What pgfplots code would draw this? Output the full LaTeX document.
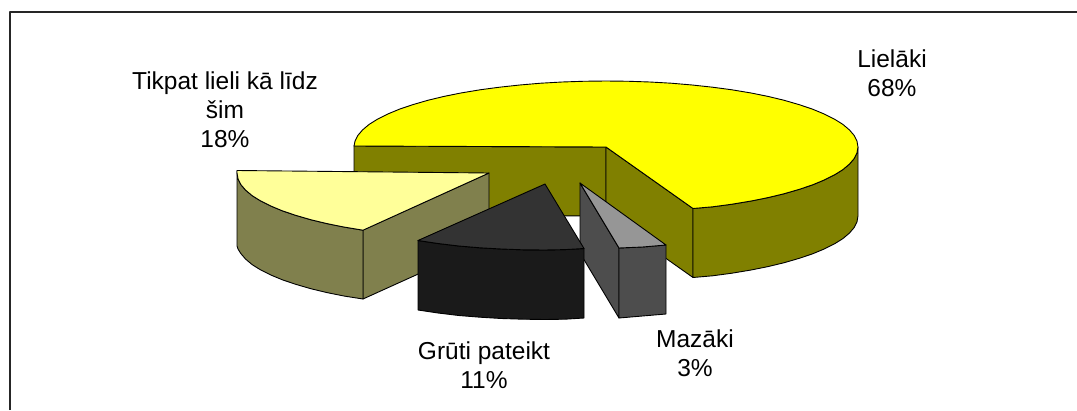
\documentclass[border=0pt]{standalone}
\usepackage{pgfplots}
\pgfplotsset{compat=1.18}
\usepackage{fontspec}
\setmainfont{Liberation Sans}
\definecolor{yel}{HTML}{FFFF00}
\definecolor{oli}{HTML}{808000}
\definecolor{ltyel}{HTML}{FFFF99}
\definecolor{ltoli}{HTML}{80804D}
\definecolor{dtop}{HTML}{333333}
\definecolor{dside}{HTML}{1A1A1A}
\definecolor{gtop}{HTML}{969696}
\definecolor{gside}{HTML}{4D4D4D}
\tikzset{lab/.style={font=\fontsize{24.5}{29}\selectfont, align=center, text=black, inner sep=0pt, anchor=center}}
\begin{document}
\begin{tikzpicture}
\path[use as bounding box] (0,0) rectangle (1077pt,410pt);
\begin{axis}[
  at={(0,0)}, anchor=south west,
  width=1077pt, height=410pt, scale only axis,
  xmin=0, xmax=1077, ymin=0, ymax=410, y dir=reverse,
  hide axis, clip=true,
  every axis plot/.append style={line width=0.9pt, line join=round, draw=black, mark=none},
]
% frame
\addplot[line width=1.4pt, draw=black!85] coordinates {(10,410) (10,12) (1077,12)};
% main slice (68%): inner faces
\addplot[fill=oli] coordinates {(354,146) (606,147) (606,216) (354,215)} -- cycle;
\addplot[fill=oli] coordinates {(606,147) (693,208.5) (693,277.5) (606,216)} -- cycle;
% main slice: outer wall
\addplot[fill=oli] coordinates {(693,208.5) (712.5,206.8) (732,204.2) (750.6,201.1) (768,197.6) (784.2,193.7) (799,189.4) (812.4,184.9) (824.2,180) (834.4,174.9) (842.9,169.6) (849.4,164.1) (854.2,158.5) (857,152.75) (858,147)
 (858,216) (857,221.75) (854.2,227.5) (849.4,233.1) (842.9,238.6) (834.4,243.9) (824.2,249) (812.4,253.9) (799,258.4) (784.2,262.7) (768,266.6) (750.6,270.1) (732,273.2) (712.5,275.8) (693,277.5)} -- cycle;
% main slice: top
\addplot[fill=yel] coordinates {(354,146) (355,141.25) (357.8,135.5) (362.6,129.9) (369.1,124.4) (377.6,119.1) (387.8,114) (399.6,109.1) (413,104.6) (427.8,100.3) (444,96.4) (461.4,92.9) (480,89.8) (499.5,87.2) (519.8,85) (540.8,83.2) (562.2,82) (584,81.25) (606,81) (628,81.25) (649.8,82) (671.2,83.2) (692.2,85) (712.5,87.2) (732,89.8) (750.6,92.9) (768,96.4) (784.2,100.3) (799,104.6) (812.4,109.1) (824.2,114) (834.4,119.1) (842.9,124.4) (849.4,129.9) (854.2,135.5) (857,141.25) (858,147) (857,152.75) (854.2,158.5) (849.4,164.1) (842.9,169.6) (834.4,174.9) (824.2,180) (812.4,184.9) (799,189.4) (784.2,193.7) (768,197.6) (750.6,201.1) (732,204.2) (712.5,206.8) (693,208.5) (606,147)} -- cycle;
% 18% slice
\addplot[fill=ltoli] coordinates {(489,173) (363,230) (363,299) (489,242)} -- cycle;
\addplot[fill=ltoli] coordinates {(237,171) (237,173) (238,178.75) (240.8,184.5) (245.6,190.1) (252.1,195.6) (260.6,200.9) (270.8,206) (282.6,210.9) (296,215.4) (310.8,219.7) (327,223.6) (344.4,227.1) (363,230.2)
 (363,299) (344.4,296.1) (327,292.6) (310.8,288.7) (296,284.4) (282.6,279.9) (270.8,275) (260.6,269.9) (252.1,264.6) (245.6,259.1) (240.8,253.5) (238,249) (237,246)} -- cycle;
\addplot[fill=ltyel] coordinates {(237,170.5) (237,173) (238,178.75) (240.8,184.5) (245.6,190.1) (252.1,195.6) (260.6,200.9) (270.8,206) (282.6,210.9) (296,215.4) (310.8,219.7) (327,223.6) (344.4,227.1) (363,230.2) (489,173)} -- cycle;
% 3% slice
\addplot[fill=gside] coordinates {(580,183) (619,248) (619,318) (580,253)} -- cycle;
\addplot[fill=gside] coordinates {(619,248) (642.5,247) (666,245) (666,314) (642.5,316) (619,318)} -- cycle;
\addplot[fill=gtop] coordinates {(580,183) (619,248) (642.5,247) (666,245)} -- cycle;
% 11% slice
\addplot[fill=dside] coordinates {(418,240.5) (438,243.5) (458.8,246) (480,247.8) (501.2,249) (523,249.8) (545,250) (565,249.6) (584,248.5) (584,318) (565,319.2) (545,319.5) (523,319.2) (501.2,318.5) (480,317.2) (458.8,315.5) (438,313) (418,310)} -- cycle;
\addplot[fill=dtop] coordinates {(545,184) (418,240.5) (438,243.5) (458.8,246) (480,247.8) (501.2,249) (523,249.8) (545,250) (565,249.6) (584,248.5)} -- cycle;
% labels
\node[lab] at (axis cs:892,73) {Lielāki\\68\%};
\node[lab] at (axis cs:225,110) {Tikpat lieli kā līdz\\šim\\18\%};
\node[lab] at (axis cs:484,365) {Grūti pateikt\\11\%};
\node[lab] at (axis cs:695,353) {Mazāki\\3\%};
\end{axis}
\end{tikzpicture}
\end{document}
